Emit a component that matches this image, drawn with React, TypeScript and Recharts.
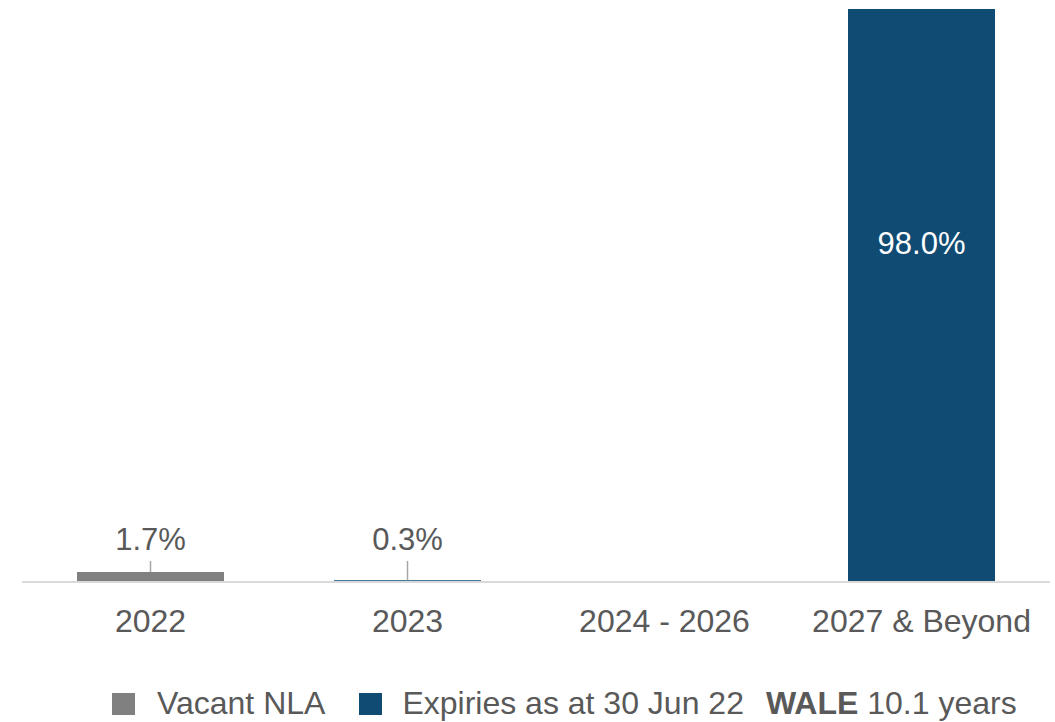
import { Bar, BarChart, LabelList, XAxis, YAxis } from 'recharts';

const categories = ['2022', '2023', '2024 - 2026', '2027 & Beyond'];
const vacantNla = [1.7, 0, 0, 0];
const expiries = [0, 0.3, 0, 98.0];
const waleYears = '10.1 years';

const GREY = '#808080';
const BLUE = '#104B74';
const TEXT = '#595959';
const FONT = '"Liberation Sans", Arial, sans-serif';

const data = categories.map((name, i) => ({
  name,
  vacant: vacantNla[i],
  expiries: expiries[i],
}));

// small values get a label above with a leader line, big ones sit inside the bar
function PctLabel(props: any) {
  const { x, y, width, height, value } = props;
  if (!value) return null;
  const cx = x + width / 2;
  const bottom = y + height;
  const text = `${Number(value).toFixed(1)}%`;
  if (value < 10) {
    return (
      <g>
        <line x1={cx} x2={cx} y1={bottom - 21} y2={y} stroke="#a6a6a6" strokeWidth={1.5} />
        <text x={cx} y={bottom - 32} textAnchor="middle" fill={TEXT} fontSize={31} fontFamily={FONT}>
          {text}
        </text>
      </g>
    );
  }
  return (
    <text
      x={cx}
      y={y + height * 0.41}
      textAnchor="middle"
      dominantBaseline="central"
      fill="#fff"
      fontSize={31}
      fontFamily={FONT}
    >
      {text}
    </text>
  );
}

function LegendBox({ color }: { color: string }) {
  return <span style={{ display: 'inline-block', width: 23, height: 22, background: color }} />;
}

export default function App() {
  return (
    <div style={{ position: 'absolute', left: 0, top: 0, width: 1055, height: 722, background: '#fff' }}>
      <BarChart
        width={1055}
        height={722}
        data={data}
        margin={{ top: 9, right: 5, bottom: 80, left: 22 }}
        barSize={147}
      >
        <XAxis
          dataKey="name"
          axisLine={{ stroke: '#d9d9d9', strokeWidth: 2 }}
          tickLine={false}
          tickMargin={21}
          height={60}
          interval={0}
          tick={{ fontSize: 32, fill: TEXT, fontFamily: FONT }}
        />
        <YAxis hide domain={[0, 98]} />
        <Bar dataKey="vacant" stackId="a" fill={GREY} isAnimationActive={false}>
          <LabelList dataKey="vacant" content={PctLabel} />
        </Bar>
        <Bar dataKey="expiries" stackId="a" fill={BLUE} isAnimationActive={false}>
          <LabelList dataKey="expiries" content={PctLabel} />
        </Bar>
      </BarChart>
      <div
        style={{
          position: 'absolute',
          left: 112,
          top: 685,
          display: 'flex',
          alignItems: 'center',
          fontFamily: FONT,
          fontSize: 32,
          color: TEXT,
          whiteSpace: 'nowrap',
        }}
      >
        <LegendBox color={GREY} />
        <span style={{ marginLeft: 22 }}>Vacant NLA</span>
        <span style={{ marginLeft: 34, display: 'flex' }}>
          <LegendBox color={BLUE} />
        </span>
        <span style={{ marginLeft: 20 }}>Expiries as at 30 Jun 22</span>
        <span style={{ marginLeft: 22 }}>
          <b>WALE</b> {waleYears}
        </span>
      </div>
    </div>
  );
}
